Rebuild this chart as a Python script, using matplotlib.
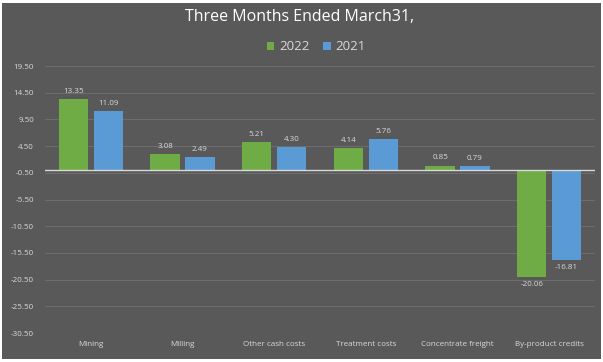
import matplotlib
matplotlib.use("Agg")
import matplotlib.pyplot as plt
import numpy as np
from matplotlib.patches import Rectangle

categories = ["Mining", "Milling", "Other cash costs", "Treatment costs",
              "Concentrate freight", "By-product credits"]
values_2022 = [13.35, 3.08, 5.21, 4.14, 0.85, -20.06]
values_2021 = [11.09, 2.49, 4.30, 5.76, 0.79, -16.81]
yticks = [19.5, 14.5, 9.5, 4.5, -0.5, -5.5, -10.5, -15.5, -20.5, -25.5, -30.5]

plt.rcParams['font.family'] = ['Open Sans', 'DejaVu Sans']

bg = '#595959'
txt = '#d9d9d9'
green = '#6fac46'
blue = '#5b9bd5'

fig = plt.figure(figsize=(6.03, 3.62), dpi=100, facecolor='white')
# dark chart area with thin white margin
fig.patches.append(Rectangle((2 / 603, 3 / 362), 599 / 603, 356 / 362,
                             transform=fig.transFigure, facecolor=bg,
                             edgecolor='none', zorder=-10))

ax = fig.add_axes([45 / 603, 1 - 333 / 362, 550 / 603, 267 / 362])
ax.set_facecolor(bg)

x = np.arange(len(categories))
w = 0.32
off = 0.19
b1 = ax.bar(x - off, values_2022, w, color=green, label='2022', zorder=3)
b2 = ax.bar(x + off, values_2021, w, color=blue, label='2021', zorder=3)

ax.bar_label(b1, fmt='%.2f', padding=3, fontsize=5.8, color=txt)
ax.bar_label(b2, fmt='%.2f', padding=3, fontsize=5.8, color=txt)

ax.set_xlim(-0.5, len(categories) - 0.5)
ax.set_ylim(-30.5, 19.5)
ax.set_yticks(yticks)
ax.set_yticklabels([f'{v:.2f}' for v in yticks])
ax.set_xticks(x)
ax.set_xticklabels(categories)
ax.tick_params(axis='both', length=0, colors=txt, labelsize=5.8)
ax.tick_params(axis='y', pad=8)
ax.tick_params(axis='x', pad=6)

ax.grid(axis='y', color='#6e6e6e', linewidth=0.7, zorder=0)
ax.axhline(0, color='#d9d9d9', linewidth=1.0, zorder=4)
for s in ax.spines.values():
    s.set_visible(False)

fig.text(300 / 603, 1 - 17 / 362, 'Three Months Ended March31,', ha='center',
         va='center', color='white', fontsize=11.5)
fig.legend(handles=[b1, b2], loc='center',
           bbox_to_anchor=(316 / 603, 1 - 47 / 362),
           ncol=2, frameon=False, fontsize=9.5, labelcolor=txt,
           handlelength=0.6, handleheight=0.6, handletextpad=0.35,
           columnspacing=1.0)

fig.savefig('out.png', dpi=100, facecolor='white')
